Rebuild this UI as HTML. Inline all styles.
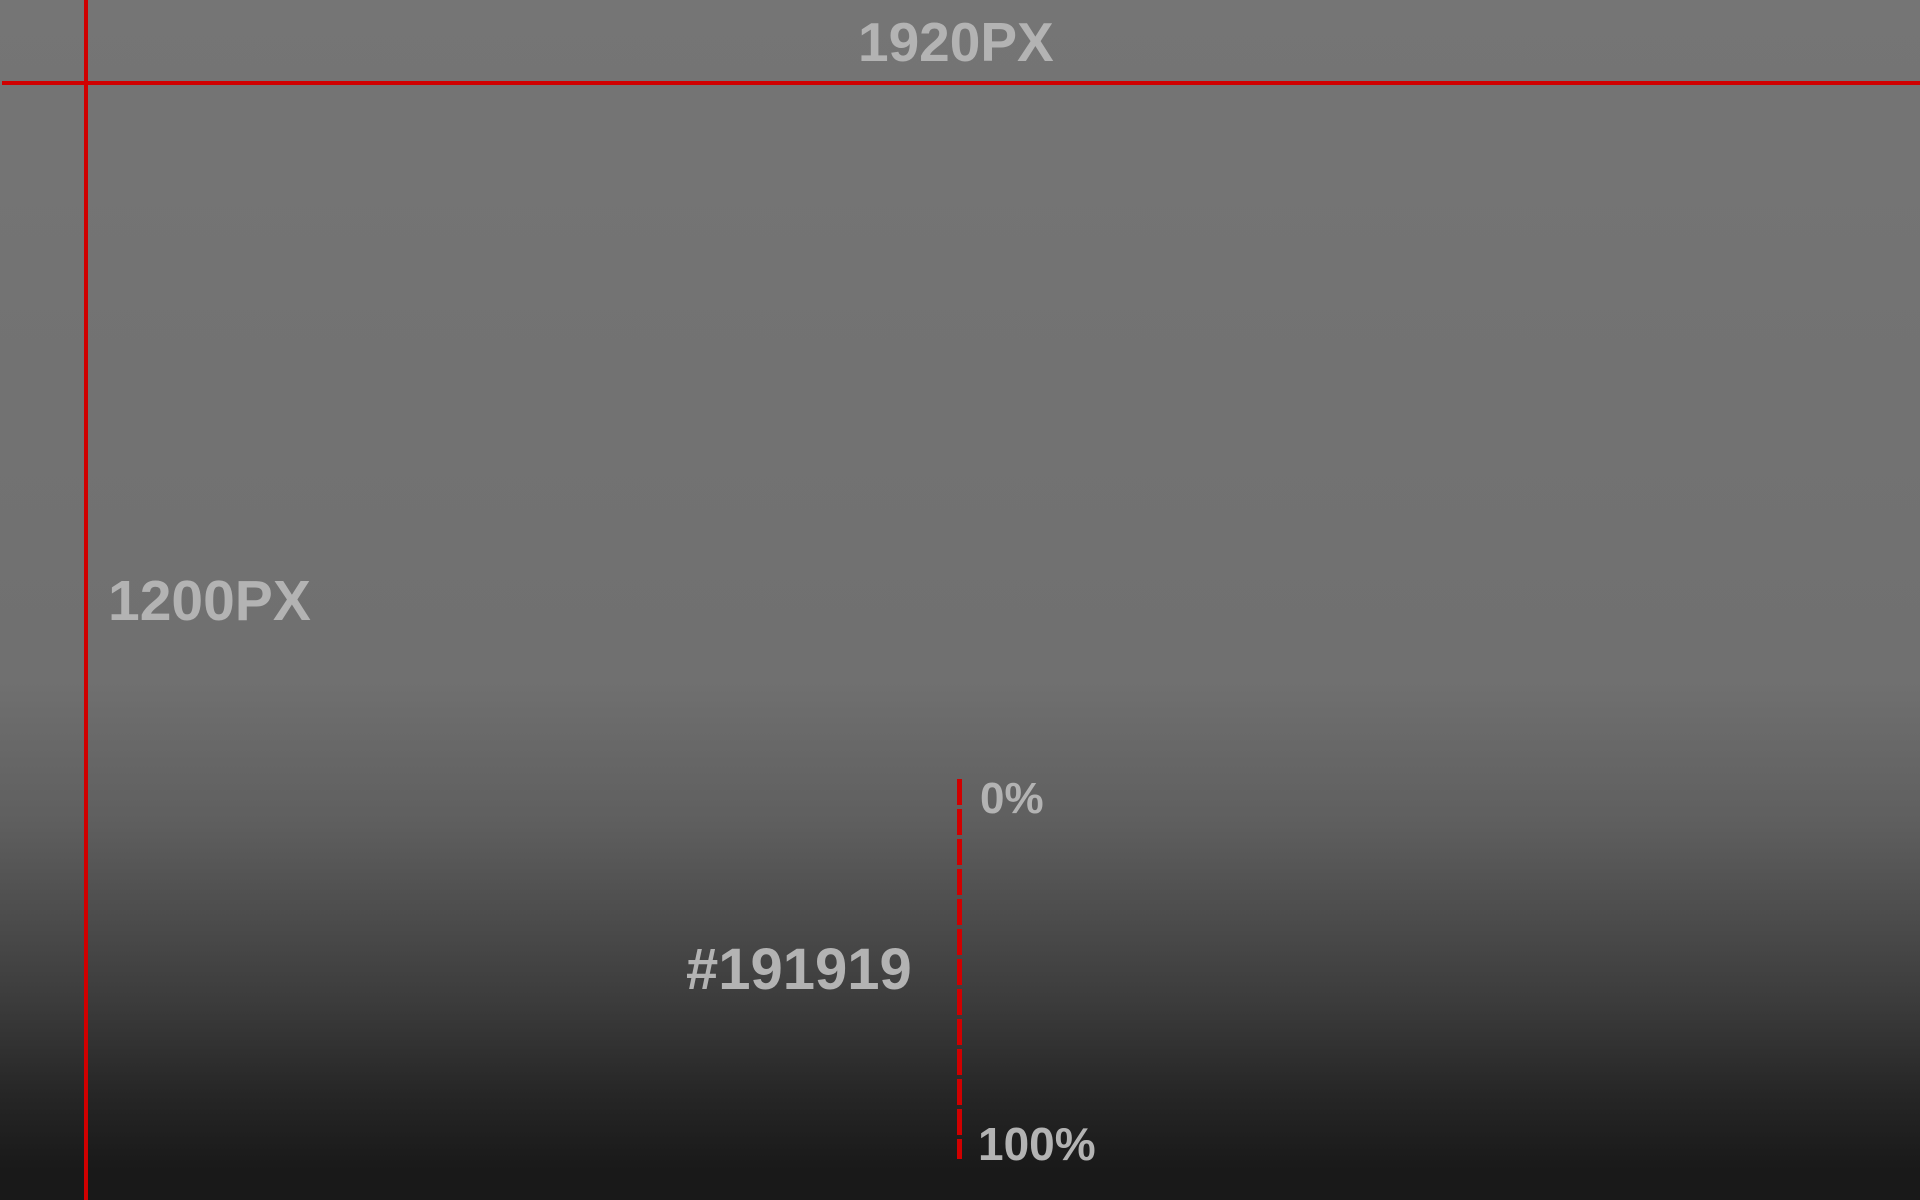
<!DOCTYPE html>
<html>
<head>
<meta charset="utf-8">
<style>
  html,body{margin:0;padding:0;}
  body{width:1920px;height:1200px;position:relative;overflow:hidden;
    background:linear-gradient(to bottom,#757575 0px,#707070 680px,#5f5f5f 820px,#3c3c3c 1000px,#252525 1100px,#191919 1170px,#191919 1200px);
    font-family:"Liberation Sans",sans-serif;font-weight:bold;color:#b3b3b3;}
  .t{position:absolute;white-space:nowrap;line-height:1;}
</style>
</head>
<body>
<div style="position:absolute;left:2px;top:81px;width:1918px;height:4px;background:#d00000;"></div>
<div style="position:absolute;left:84px;top:0;width:4px;height:1200px;background:#d00000;"></div>
<div class="t" style="left:858px;top:15px;font-size:55px;">1920PX</div>
<div class="t" style="left:108px;top:573px;font-size:57px;">1200PX</div>
<div style="position:absolute;left:957px;top:779px;width:5px;height:380px;background:repeating-linear-gradient(to bottom,#d00000 0,#d00000 26px,transparent 26px,transparent 30px);"></div>
<div class="t" style="left:980px;top:777px;font-size:44px;">0%</div>
<div class="t" style="left:978px;top:1121px;font-size:46px;">100%</div>
<div class="t" style="left:686px;top:941px;font-size:58px;">#191919</div>
</body>
</html>
